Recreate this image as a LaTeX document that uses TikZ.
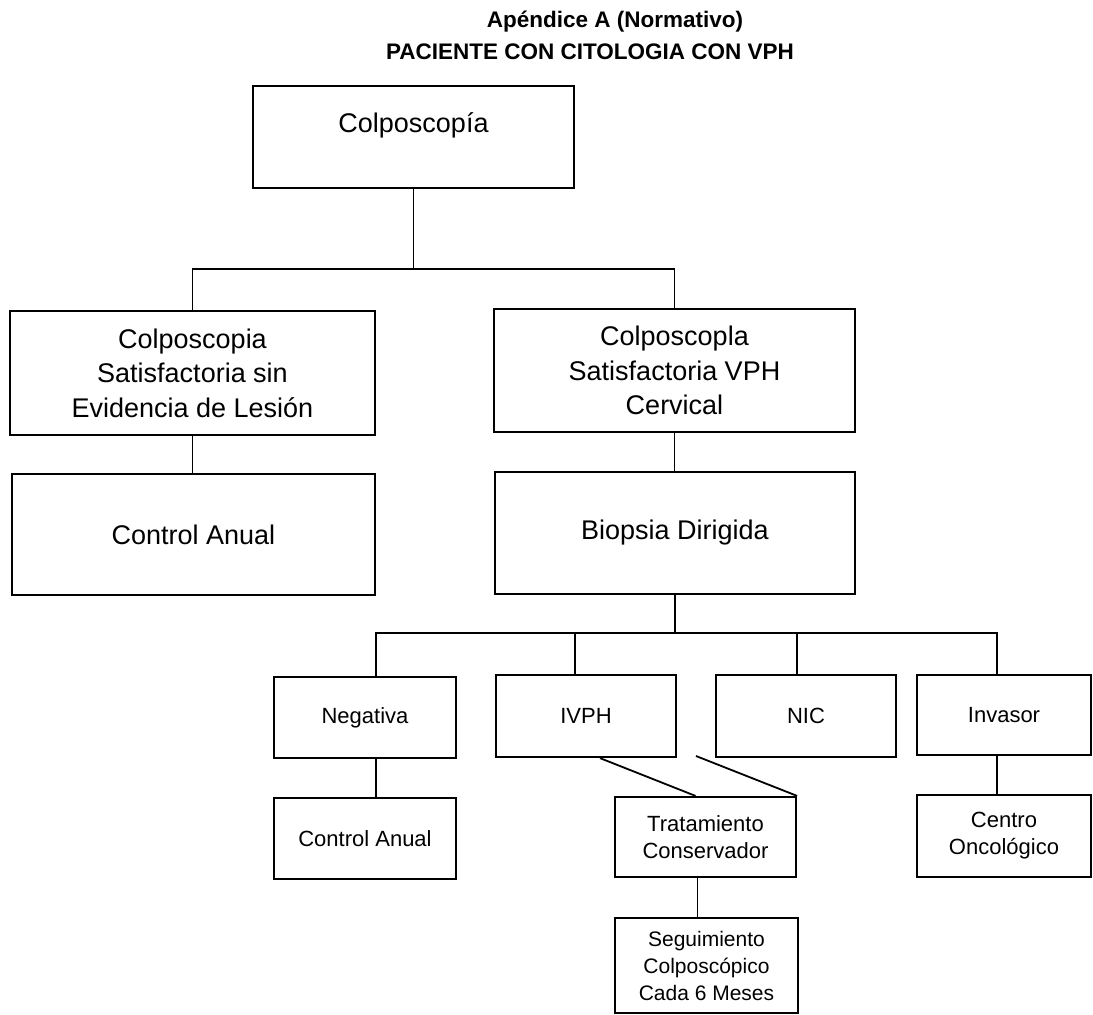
\documentclass[tikz,border=0pt]{standalone}
\usepackage{fontspec}
\setmainfont{Liberation Sans}
\usetikzlibrary{arrows,shapes}

\begin{document}
\begin{tikzpicture}[x=1pt,y=-1pt,line width=1.8pt,
        bigbox/.style={draw,rectangle,line width=2.2pt,align=center,inner sep=0pt,font=\fontsize{27}{34.5}\selectfont},
        smallbox/.style={draw,rectangle,line width=2.2pt,align=center,inner sep=0pt,font=\fontsize{22}{27}\selectfont},
        titulo/.style={font=\bfseries\fontsize{22.5}{27}\selectfont}]
        \useasboundingbox (0,0) rectangle (1093,1015);
        \node[titulo] (tit1) at (615,22) {Apéndice A (Normativo)};
        \node[titulo] (tit2) at (590,52) {PACIENTE CON CITOLOGIA CON VPH};
        \node[bigbox,minimum width=321pt,minimum height=102pt] (colpo) at (413.5,137) {\raisebox{12pt}[\height][\depth]{Colposcopía}};
        \node[bigbox,minimum width=365pt,minimum height=124pt] (sinles) at (192.5,373) {Colposcopia\\Satisfactoria sin\\Evidencia de Lesión};
        \node[bigbox,minimum width=363pt,minimum height=121pt] (ctrl1) at (193.5,534.5) {Control Anual};
        \node[bigbox,minimum width=361pt,minimum height=123pt] (vphcerv) at (674.5,370.5) {Colposcopla\\Satisfactoria VPH\\Cervical};
        \node[bigbox,minimum width=360pt,minimum height=122pt] (biop) at (675,533) {Biopsia Dirigida};
        \node[smallbox,minimum width=182pt,minimum height=81pt] (neg) at (365,717.5) {Negativa};
        \node[smallbox,minimum width=180pt,minimum height=82pt] (ivph) at (586,716) {IVPH};
        \node[smallbox,minimum width=180pt,minimum height=82pt] (nic) at (806,716) {NIC};
        \node[smallbox,minimum width=174pt,minimum height=80pt] (inv) at (1004,715) {Invasor};
        \node[smallbox,minimum width=182pt,minimum height=81pt] (ctrl2) at (365,838.5) {Control Anual};
        \node[smallbox,minimum width=181pt,minimum height=80pt] (trat) at (705.5,837) {Tratamiento\\Conservador};
        \node[smallbox,minimum width=174pt,minimum height=82pt] (cent) at (1004,836) {Centro\\Oncológico};
        \node[smallbox,minimum width=183pt,minimum height=95pt,font=\fontsize{21}{27}\selectfont] (segui) at (706.5,965.5) {Seguimiento\\Colposcópico\\Cada 6 Meses};
        \coordinate (r1) at (413,269);
        \coordinate (r2) at (676,633);
        \coordinate (libre) at (696,756);
        \draw (colpo.south) -- (colpo.south |- r1);
        \draw (sinles.north) |- (r1) -| (vphcerv.north);
        \draw (sinles.south) -- (sinles.south |- ctrl1.north);
        \draw (vphcerv.south) -- (vphcerv.south |- biop.north);
        \draw (biop.south) -- (biop.south |- r2);
        \draw ([xshift=11pt]neg.north) |- (r2) -| ([xshift=-7pt]inv.north);
        \draw ([xshift=-11pt]ivph.north) -- ([xshift=-11pt]ivph.north |- r2);
        \draw ([xshift=-9pt]nic.north) -- ([xshift=-9pt]nic.north |- r2);
        \draw ([xshift=11pt]neg.south) -- ([xshift=11pt]neg.south |- ctrl2.north);
        \draw ([xshift=-7pt]inv.south) -- ([xshift=-7pt]inv.south |- cent.north);
        \draw ([xshift=14pt]ivph.south) -- ([xshift=-10pt]trat.north);
        \draw (libre) -- (trat.north east);
        \draw ([xshift=-8pt]trat.south) -- ([xshift=-8pt]trat.south |- segui.north);
    \end{tikzpicture}
\end{document}
